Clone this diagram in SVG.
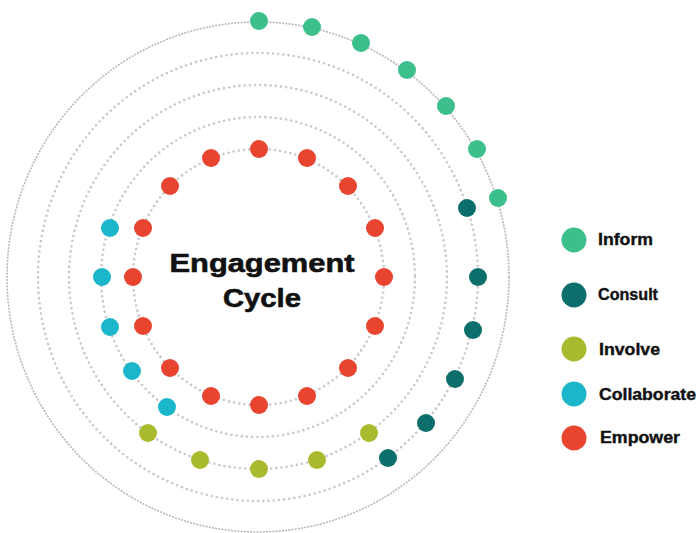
<svg xmlns="http://www.w3.org/2000/svg" width="700" height="533" viewBox="0 0 700 533">
<style>
.ring{fill:none;stroke:#c8c8c8;stroke-width:2.6;stroke-linecap:round;stroke-dasharray:0 5.2}
.outer{fill:none;stroke:#b8b8b8;stroke-width:1.6;stroke-dasharray:2 1.2}
.inform{fill:#3dbf8c}
.consult{fill:#0d6f6b}
.involve{fill:#a9ba2f}
.collab{fill:#1bb6c9}
.empower{fill:#e8442f}
.lbl{font-family:"Liberation Sans",Arial,sans-serif;font-weight:bold;font-size:16.5px;fill:#111;stroke:#111;stroke-width:0.4}
.title{font-family:"Liberation Sans",Arial,sans-serif;font-weight:bold;font-size:26px;fill:#111;stroke:#111;stroke-width:0.6;text-anchor:middle}
</style>
<rect width="700" height="533" fill="#fff"/>
<g id="rings">
<ellipse class="outer" cx="258" cy="277" rx="251" ry="255"/>
<ellipse class="ring" cx="258" cy="277" rx="220" ry="224"/>
<ellipse class="ring" cx="258" cy="277" rx="189" ry="192"/>
<ellipse class="ring" cx="258" cy="277" rx="157" ry="160"/>
<ellipse class="ring" cx="258.5" cy="277" rx="125.5" ry="128"/>
</g>
<g id="inform-dots" class="inform">
<circle cx="259" cy="21" r="9"/>
<circle cx="312" cy="27" r="9"/>
<circle cx="361" cy="43" r="9"/>
<circle cx="407" cy="70" r="9"/>
<circle cx="446" cy="106" r="9"/>
<circle cx="477" cy="149" r="9"/>
<circle cx="498" cy="198" r="9"/>
</g>
<g id="consult-dots" class="consult">
<circle cx="467" cy="208" r="9"/>
<circle cx="478" cy="277" r="9"/>
<circle cx="473" cy="330" r="9"/>
<circle cx="455" cy="379" r="9"/>
<circle cx="426" cy="423" r="9"/>
<circle cx="388" cy="458" r="9"/>
</g>
<g id="involve-dots" class="involve">
<circle cx="148" cy="433" r="9"/>
<circle cx="200" cy="460" r="9"/>
<circle cx="259" cy="469" r="9"/>
<circle cx="317" cy="460" r="9"/>
<circle cx="369" cy="433" r="9"/>
</g>
<g id="collaborate-dots" class="collab">
<circle cx="110" cy="228" r="9"/>
<circle cx="102" cy="277" r="9"/>
<circle cx="110" cy="327" r="9"/>
<circle cx="132" cy="371" r="9"/>
<circle cx="167" cy="407" r="9"/>
</g>
<g id="empower-dots" class="empower">
<circle cx="259" cy="149" r="9"/>
<circle cx="307" cy="158" r="9"/>
<circle cx="348" cy="186" r="9"/>
<circle cx="375" cy="228" r="9"/>
<circle cx="384" cy="277" r="9"/>
<circle cx="375" cy="326" r="9"/>
<circle cx="348" cy="368" r="9"/>
<circle cx="307" cy="396" r="9"/>
<circle cx="259" cy="405" r="9"/>
<circle cx="211" cy="396" r="9"/>
<circle cx="170" cy="368" r="9"/>
<circle cx="143" cy="326" r="9"/>
<circle cx="133" cy="277" r="9"/>
<circle cx="143" cy="228" r="9"/>
<circle cx="170" cy="186" r="9"/>
<circle cx="211" cy="158" r="9"/>
</g>
<g id="title">
<text class="title" x="262" y="272" textLength="185" lengthAdjust="spacingAndGlyphs">Engagement</text>
<text class="title" x="262" y="307" textLength="78" lengthAdjust="spacingAndGlyphs">Cycle</text>
</g>
<g id="legend-inform">
<circle class="inform" cx="574" cy="240" r="12.5"/>
<text class="lbl" x="598" y="245" textLength="55" lengthAdjust="spacingAndGlyphs">Inform</text>
</g>
<g id="legend-consult">
<circle class="consult" cx="574" cy="295" r="12.5"/>
<text class="lbl" x="598" y="300" textLength="60" lengthAdjust="spacingAndGlyphs">Consult</text>
</g>
<g id="legend-involve">
<circle class="involve" cx="574" cy="349" r="12.5"/>
<text class="lbl" x="599" y="355" textLength="61" lengthAdjust="spacingAndGlyphs">Involve</text>
</g>
<g id="legend-collaborate">
<circle class="collab" cx="574" cy="394" r="12.5"/>
<text class="lbl" x="599" y="400" textLength="97" lengthAdjust="spacingAndGlyphs">Collaborate</text>
</g>
<g id="legend-empower">
<circle class="empower" cx="574" cy="438" r="12.5"/>
<text class="lbl" x="600" y="443" textLength="80" lengthAdjust="spacingAndGlyphs">Empower</text>
</g>
</svg>
